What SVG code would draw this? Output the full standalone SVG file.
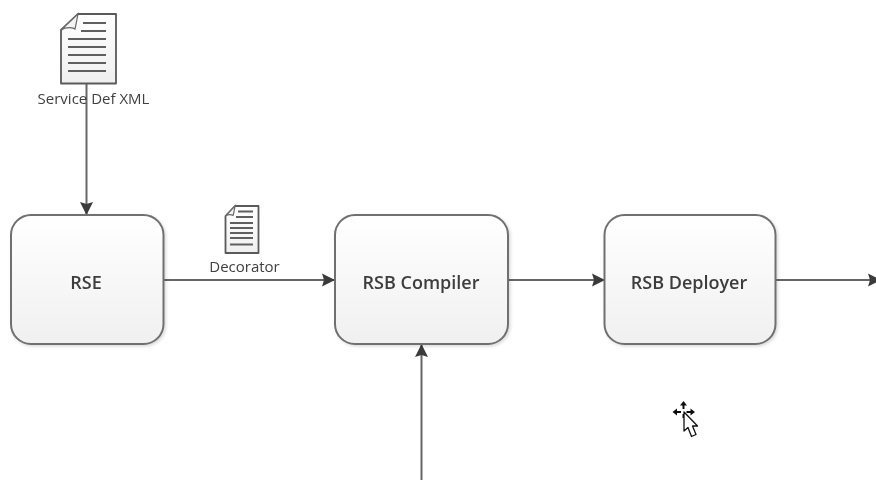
<svg xmlns="http://www.w3.org/2000/svg" width="876" height="480" viewBox="0 0 876 480">
<style>
.box{fill:url(#boxFill);stroke:#6f6f6f;stroke-width:2;filter:url(#shadow)}
.lbl{font-family:"Open Sans","Noto Sans","DejaVu Sans",sans-serif;font-size:18px;font-weight:600;fill:#3c3c3c;text-anchor:middle}
.small{font-family:"Open Sans","Noto Sans","DejaVu Sans",sans-serif;font-size:15px;fill:#3f3f3f;text-anchor:middle}
.conn{fill:none;stroke:#666;stroke-width:2}
.doc{fill:url(#docFill);stroke:#5a5a5a;stroke-width:1.8;stroke-linejoin:round}
.fold{fill:#f4f4f4;stroke:#6a6a6a;stroke-width:1.2}
.rule{stroke:#5f5f5f;stroke-width:2}
</style>
<defs>
<linearGradient id="boxFill" x1="0" y1="0" x2="0" y2="1"><stop offset="0" stop-color="#ffffff"/><stop offset="1" stop-color="#f0f0f0"/></linearGradient>
<linearGradient id="docFill" x1="0" y1="0" x2="0" y2="1"><stop offset="0" stop-color="#ffffff"/><stop offset="1" stop-color="#efefef"/></linearGradient>
<filter id="shadow" x="-5%" y="-5%" width="112%" height="112%"><feDropShadow dx="1.5" dy="1.5" stdDeviation="1.5" flood-color="#000" flood-opacity="0.15"/></filter>
<filter id="soft" filterUnits="userSpaceOnUse" x="0" y="0" width="876" height="480"><feGaussianBlur stdDeviation="0.45"/></filter>
<marker id="arrow" markerUnits="userSpaceOnUse" markerWidth="14" markerHeight="14" refX="13" refY="7" orient="auto"><path d="M0 0.500L13 7L0 13.500L2 7Z" fill="#3a3a3a"/></marker>
</defs>
<g filter="url(#soft)">
<g id="connectors">
<path class="conn" d="M86.500 84V215" marker-end="url(#arrow)"/>
<path class="conn" d="M164 280H335" marker-end="url(#arrow)"/>
<path class="conn" d="M509 280H605" marker-end="url(#arrow)"/>
<path class="conn" d="M776 280H881" marker-end="url(#arrow)"/>
<path class="conn" d="M421.500 480V344" marker-end="url(#arrow)"/>
</g>
<g id="node-service-def">
<path class="doc" d="M78 14H116V83.500H61V30Z"/>
<path class="fold" d="M78 14L61 30C67 26 74 28 75 29C76 25 77 19 78 14Z"/>
<path class="rule" d="M83 23H106M81 31H106M68 39H106M68 47H106M68 55H106M68 63H106M68 71H106"/>
<text class="small" x="93.500" y="104">Service Def XML</text>
</g>
<g id="node-decorator">
<path class="doc" d="M235 206H258.500V253H225.500V216Z"/>
<path class="fold" d="M235 206L225.500 216C229 214 232 215 233 215.500C234 213 234.500 209 235 206Z"/>
<path class="rule" d="M238 211.500H253M236 217H253M230 223H253M230 228H253M230 233H253M230 238H253M230 244.500H253"/>
<text class="small" x="244.500" y="272">Decorator</text>
</g>
<g id="node-rse">
<rect class="box" x="11" y="215" width="152.500" height="129" rx="20"/>
<text class="lbl" x="86" y="289">RSE</text>
</g>
<g id="node-compiler">
<rect class="box" x="335" y="215" width="173" height="129" rx="20"/>
<text class="lbl" x="421" y="289">RSB Compiler</text>
</g>
<g id="node-deployer">
<rect class="box" x="604.500" y="215" width="171" height="129" rx="20"/>
<text class="lbl" x="689" y="289">RSB Deployer</text>
</g>
<g id="cursor">
<path d="M683.500 401L680 405.500H682.500V409H684.500V405.500H687Z M672.500 412L677 408.500V411H681V413H677V415.500Z M695 412L690.500 408.500V411H686.500V413H690.500V415.500Z M682.500 414H684.500V418H682.500Z" fill="#111"/>
<path d="M684 412V431L688 427.500L691.500 436.500L696 434.500L692.500 426H697.500Z" fill="#fff" stroke="#111" stroke-width="1.300" stroke-linejoin="round"/>
</g>
</g>
</svg>
